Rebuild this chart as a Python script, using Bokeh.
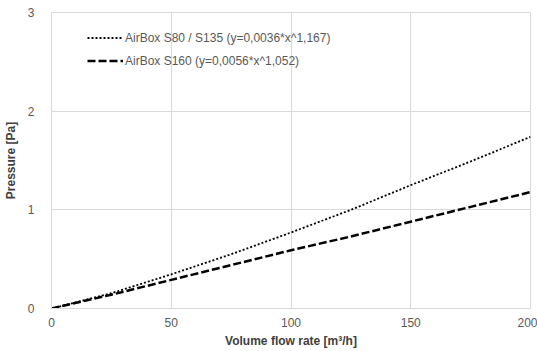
from bokeh.plotting import figure
from bokeh.embed import file_html
from bokeh.resources import INLINE
from bokeh.models import Legend, LegendItem, FixedTicker, Range1d

# Data
flow = [0, 25, 50, 75, 100, 125, 150, 175, 200]
p_s80 = [0, 0.155, 0.346, 0.55, 0.77, 1.0, 1.25, 1.49, 1.74]
p_s160 = [0, 0.14, 0.29, 0.44, 0.59, 0.73, 0.88, 1.03, 1.18]
x_ticks = [0, 50, 100, 150, 200]
y_ticks = [0, 1, 2, 3]
label_s80 = "AirBox S80 / S135 (y=0,0036*x^1,167)"
label_s160 = "AirBox S160 (y=0,0056*x^1,052)"

FONT = "Liberation Sans"
GRID = "#d9d9d9"
TXT = "#595959"

p = figure(width=537, height=351, output_backend="svg", toolbar_location=None,
           x_range=Range1d(0, 200), y_range=Range1d(0, 3),
           min_border_left=51, min_border_right=7, min_border_top=12, min_border_bottom=43)
p.outline_line_color = GRID
p.background_fill_color = "white"
p.border_fill_color = "white"

for ax in (p.xaxis[0], p.yaxis[0]):
    ax.axis_line_color = GRID
    ax.major_tick_line_color = None
    ax.minor_tick_line_color = None
    ax.major_label_text_color = TXT
    ax.major_label_text_font = FONT
    ax.major_label_text_font_size = "12px"
    ax.axis_label_text_font = FONT
    ax.axis_label_text_font_size = "12px"
    ax.axis_label_text_font_style = "bold"
    ax.axis_label_text_color = "#404040"

p.xaxis.ticker = FixedTicker(ticks=x_ticks)
p.yaxis.ticker = FixedTicker(ticks=y_ticks)
p.xaxis.axis_label = "Volume flow rate [m³/h]"
p.yaxis.axis_label = "Pressure [Pa]"
p.xaxis.major_label_standoff = 3
p.yaxis.major_label_standoff = 11
p.xaxis.axis_label_standoff = 4
p.yaxis.axis_label_standoff = 7

p.xgrid.grid_line_color = GRID
p.ygrid.grid_line_color = GRID

r1 = p.line(flow, p_s80, line_color="black", line_width=1.8, line_dash="2 2")
r2 = p.line(flow, p_s160, line_color="black", line_width=2.5, line_dash="8 3")

legend = Legend(items=[LegendItem(label=label_s80, renderers=[r1]),
                       LegendItem(label=label_s160, renderers=[r2])],
                location=(36, 236), orientation="vertical")
legend.background_fill_alpha = 0
legend.border_line_color = None
legend.padding = 0
legend.margin = 0
legend.spacing = 0
legend.glyph_width = 36
legend.glyph_height = 23
legend.label_height = 23
legend.label_standoff = 2
legend.label_text_font = FONT
legend.label_text_font_size = "12px"
legend.label_text_color = TXT
p.add_layout(legend, "center")

open("out.html", "w").write(file_html(p, INLINE))
